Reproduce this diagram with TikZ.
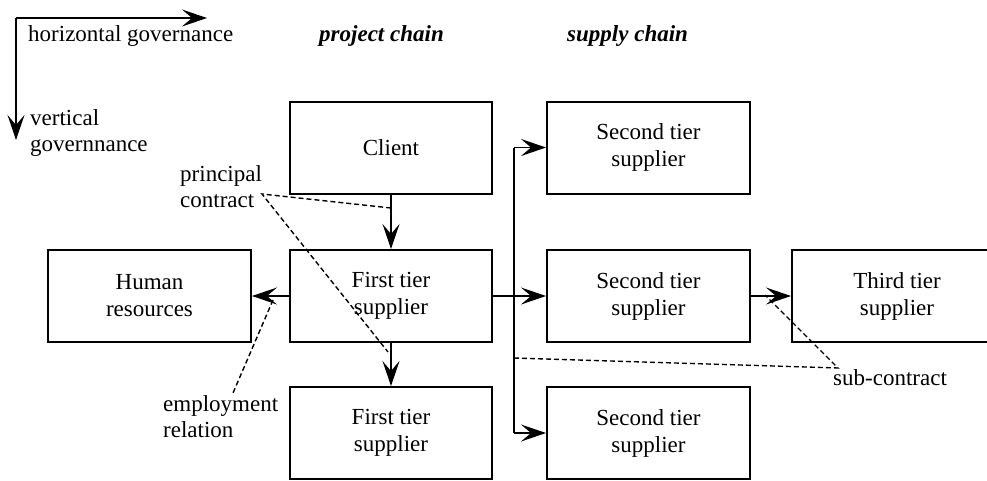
\documentclass[tikz,border=0pt]{standalone}
\usepackage{fontspec}
\setmainfont{Liberation Serif}
\usetikzlibrary{arrows.meta}
\begin{document}
\begin{tikzpicture}[x=1pt,y=-1pt,
 box/.style={draw, line width=2pt, minimum width=202pt, minimum height=92pt, inner sep=0pt, align=center, font=\fontsize{23}{27}\selectfont},
 lbl/.style={align=left, inner sep=0pt, font=\fontsize{23}{26}\selectfont},
 hdr/.style={inner sep=0pt, font=\fontsize{23}{27}\selectfont\bfseries\itshape},
 conn/.style={line width=1.8pt, -{Stealth[length=25pt,width=17pt,inset=10pt]}},
 plain/.style={line width=1.8pt},
 dsh/.style={line width=1.4pt, dash pattern=on 5pt off 3pt},
]
\useasboundingbox (0,0) rectangle (987,480);
\clip (0,0) rectangle (987,480);

% boxes
\node[box] (client) at (391,147.5) {Client};
\node[box] (first)  at (391,296) {First tier\\supplier};
\node[box] (first2) at (391,433) {First tier\\supplier};
\node[box, minimum width=203pt] (hr) at (149.5,296) {Human\\resources};
\node[box, minimum width=203pt] (s1) at (648.5,147.5) {Second tier\\supplier};
\node[box, minimum width=203pt] (s2) at (648.5,296) {Second tier\\supplier};
\node[box, minimum width=203pt] (s3) at (648.5,433) {Second tier\\supplier};
\node[box, minimum width=210pt] (third) at (897,296) {Third tier\\supplier};

% headers
\node[hdr, anchor=base west] (pch) at (319,41) {project chain};
\node[hdr, anchor=base west] (sch) at (567,41) {supply chain};

% governance axes
\coordinate (o) at (16,18);
\coordinate (hx) at (207,18);
\coordinate (vy) at (16,140);
\draw[conn] (o) -- (hx);
\draw[conn] (o) -- (vy);
\node[lbl, anchor=base west] (hg) at (28,41) {horizontal governance};
\node[lbl, anchor=base west] (vg) at (30,151) {vertical\\governnance};

% connectors
\draw[conn] (client) -- (first);
\draw[conn] (first) -- (first2);
\draw[conn] (first) -- (hr);
\draw[conn] (first) -- (s2);
\draw[conn] (s2) -- (third);
\coordinate (jt) at (514,147.5);
\coordinate (jb) at (514,433);
\draw[plain] (jt) -- (jb);
\draw[conn] (jt) -- (s1);
\draw[conn] (jb) -- (s3);

% labels and dashed pointers
\node[lbl, anchor=base west] (pcl) at (180,207) {principal\\contract};
\coordinate (pc) at (262,194);
\coordinate (pcA) at (391,208);
\coordinate (pcB) at (388,352);
\draw[dsh] (pcA) -- (pc) -- (pcB);

\node[lbl, anchor=base west] (erl) at (163,437) {employment\\relation};
\coordinate (er1) at (273,300);
\coordinate (er2) at (233,393);
\draw[dsh] (er1) -- (er2);

\node[lbl, anchor=base west] (scl) at (833,385) {sub-contract};
\coordinate (sc0) at (514,358);
\coordinate (sc1) at (838,368);
\coordinate (sc2) at (765,295);
\draw[dsh] (sc0) -- (sc1) -- (sc2);
\end{tikzpicture}
\end{document}
